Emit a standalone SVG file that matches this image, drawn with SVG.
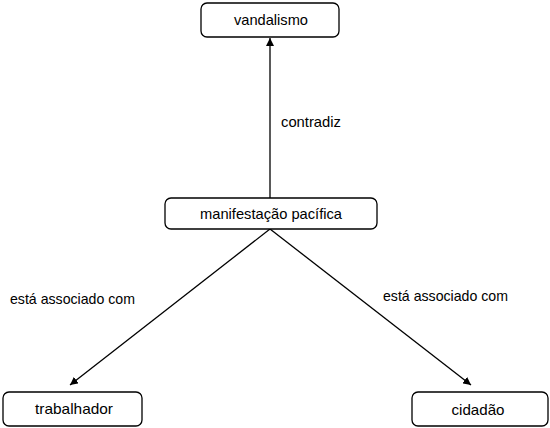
<svg xmlns="http://www.w3.org/2000/svg" width="550" height="428" viewBox="0 0 550 428">
<style>
.node rect{fill:#fff;stroke:#000;stroke-width:1.3}
text{font-family:"Liberation Sans",Arial,sans-serif;font-size:15px;fill:#000}
.node text{text-anchor:middle}
.edge{stroke:#000;stroke-width:1.3;fill:none;marker-end:url(#arr)}
</style>
<defs>
<marker id="arr" viewBox="0 0 10 10" refX="10" refY="5" markerWidth="8" markerHeight="8" markerUnits="userSpaceOnUse" orient="auto">
<path d="M0,0 L10,5 L0,10 z" fill="#000"/>
</marker>
</defs>
<rect width="550" height="428" fill="#fff"/>
<g id="connectors">
<line class="edge" x1="270" y1="198" x2="270" y2="38"/>
<line class="edge" x1="270" y1="229" x2="70" y2="385"/>
<line class="edge" x1="270" y1="229" x2="471" y2="385"/>
<text x="281" y="126.5" textLength="60" lengthAdjust="spacingAndGlyphs">contradiz</text>
<text x="10" y="304" textLength="125" lengthAdjust="spacingAndGlyphs">está associado com</text>
<text x="383" y="300.5" textLength="125" lengthAdjust="spacingAndGlyphs">está associado com</text>
</g>
<g id="node-vandalismo" class="node">
<rect x="201" y="3" width="138" height="34" rx="6"/>
<text x="271" y="25" textLength="74" lengthAdjust="spacingAndGlyphs">vandalismo</text>
</g>
<g id="node-manifestacao" class="node">
<rect x="165" y="198" width="212" height="31" rx="6"/>
<text x="271" y="218.5" textLength="142" lengthAdjust="spacingAndGlyphs">manifestação pacífica</text>
</g>
<g id="node-trabalhador" class="node">
<rect x="3" y="392" width="139" height="34" rx="6"/>
<text x="74" y="413.5" textLength="78" lengthAdjust="spacingAndGlyphs">trabalhador</text>
</g>
<g id="node-cidadao" class="node">
<rect x="412" y="392" width="136" height="34" rx="6"/>
<text x="478" y="415" textLength="53" lengthAdjust="spacingAndGlyphs">cidadão</text>
</g>
</svg>
